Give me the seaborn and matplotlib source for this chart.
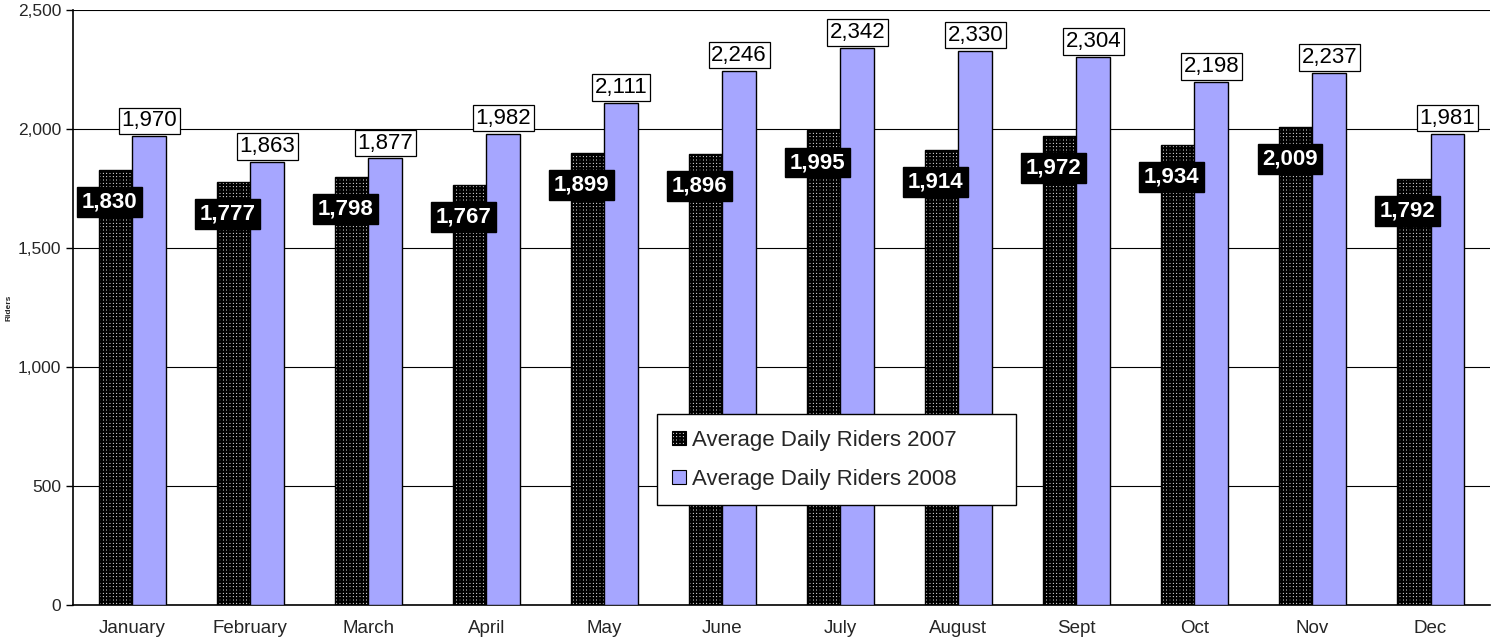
import seaborn as sns
import matplotlib.pyplot as plt
from matplotlib.patches import Patch
import numpy as np
import pandas as pd

months = ["January", "February", "March", "April", "May", "June",
          "July", "August", "Sept", "Oct", "Nov", "Dec"]
riders_2007 = [1830, 1777, 1798, 1767, 1899, 1896, 1995, 1914, 1972, 1934, 2009, 1792]
riders_2008 = [1970, 1863, 1877, 1982, 2111, 2246, 2342, 2330, 2304, 2198, 2237, 1981]
series = ["Average Daily Riders 2007", "Average Daily Riders 2008"]

sns.set_theme(style="white")
plt.rcParams['font.family'] = ['Liberation Sans', 'DejaVu Sans']
plt.rcParams['hatch.linewidth'] = 1.6

df = pd.DataFrame({
    "month": months * 2,
    "Riders": riders_2007 + riders_2008,
    "series": [series[0]] * 12 + [series[1]] * 12,
})

fig = plt.figure(figsize=(14.94, 6.41), dpi=100)
ax = fig.add_axes([0.049, 0.056, 0.948, 0.928])

sns.barplot(data=df, x="month", y="Riders", hue="series", ax=ax,
            palette=["white", "#a6a6ff"], width=0.57, edgecolor="black",
            linewidth=1, saturation=1, errorbar=None, zorder=3, legend=False)

for p in ax.containers[0]:
    p.set_hatch("+++++")

ax.set_ylim(0, 2500)
ax.set_xlim(-0.5, 11.5)
ax.set_yticks(np.arange(0, 2501, 500))
ax.set_yticklabels([f"{v:,}" for v in range(0, 2501, 500)], fontsize=12.5)
ax.yaxis.grid(True, color="black", linewidth=0.8, zorder=0)
ax.set_axisbelow(True)

ax.set_xticks(range(12))
ax.set_xticklabels(months, fontsize=13.5)
ax.set_xticks(np.arange(-0.5, 12, 1), minor=True)
ax.tick_params(axis="x", which="major", length=0, pad=11)
ax.tick_params(axis="x", which="minor", length=5, direction="out", color="black", width=1)
ax.tick_params(axis="y", length=5, direction="out", color="black", width=1, left=True)

for s in ["top", "right"]:
    ax.spines[s].set_visible(False)
for s in ["left", "bottom"]:
    ax.spines[s].set_color("black")
    ax.spines[s].set_linewidth(1.2)

ax.set_xlabel("")
ax.set_ylabel("Riders", fontsize=6, fontweight="bold")
ax.yaxis.set_label_coords(-0.043, 0.5)

for bar, v in zip(ax.containers[0], riders_2007):
    cx = bar.get_x() + bar.get_width() / 2
    ax.text(cx - 0.05, v - 135, f"{v:,}", ha="center", va="center",
            color="white", fontsize=16, fontweight="bold", zorder=5,
            bbox=dict(boxstyle="square,pad=0.2", facecolor="black", edgecolor="black"))

for bar, v in zip(ax.containers[1], riders_2008):
    cx = bar.get_x() + bar.get_width() / 2
    ax.text(cx, v + 65, f"{v:,}", ha="center", va="center",
            color="black", fontsize=16, zorder=5,
            bbox=dict(boxstyle="square,pad=0.12", facecolor="white", edgecolor="black", linewidth=0.9))

handles = [Patch(facecolor="white", edgecolor="black", hatch="+++++", linewidth=0.8),
           Patch(facecolor="#a6a6ff", edgecolor="black", linewidth=0.8)]
leg = ax.legend(handles, series, loc="lower left",
                bbox_to_anchor=(0.412, 0.168, 0.254, 0.141), borderaxespad=0,
                mode="expand", fontsize=16, frameon=True, fancybox=False, framealpha=1,
                handlelength=0.6, handleheight=0.6, handletextpad=0.3,
                labelspacing=0.8, borderpad=0.7)
leg.get_frame().set_edgecolor("black")
leg.get_frame().set_linewidth(1)
leg.set_zorder(6)

fig.savefig("out.png", dpi=100)
